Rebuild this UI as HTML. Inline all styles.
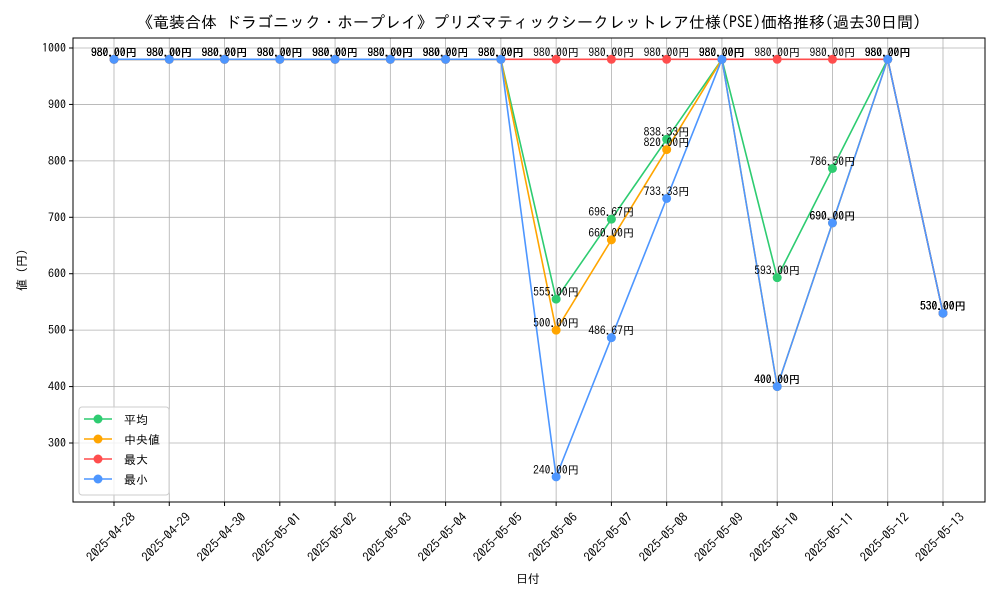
<!DOCTYPE html>
<html><head><meta charset="utf-8"><style>
body{margin:0;background:#fff;}
svg{display:block;font-family:"IPAGothic","Noto Sans CJK JP",sans-serif;}
</style></head><body>
<svg id="chart" width="1000" height="600" xmlns="http://www.w3.org/2000/svg">
<rect width="1000" height="600" fill="#fff"/>
<text x="529" y="28" font-size="16" text-anchor="middle">《竜装合体 ドラゴニック・ホープレイ》プリズマティックシークレットレア仕様(PSE)価格推移(過去30日間)</text>
<g id="grid"></g>
<g id="axes"></g>
<g id="series"></g>
<g id="labels"></g>
<text x="528" y="583" font-size="12" text-anchor="middle">日付</text>
<text x="26" y="270" font-size="12" text-anchor="middle" transform="rotate(-90 26 270)">値 (円)</text>
<g>
<rect x="79" y="407" width="90" height="88" rx="3" fill="#fff" fill-opacity="0.8" stroke="#ccc"/>
<g id="legend-items"></g>
</g>
</svg>
<script>
const dates=["2025-04-28","2025-04-29","2025-04-30","2025-05-01","2025-05-02","2025-05-03","2025-05-04","2025-05-05","2025-05-06","2025-05-07","2025-05-08","2025-05-09","2025-05-10","2025-05-11","2025-05-12","2025-05-13"];
const avgVals=[980,980,980,980,980,980,980,980,555,696.67,838.33,980,593,786.5,980,530];
const medianVals=[980,980,980,980,980,980,980,980,500,660,820,980,400,690,980,530];
const maxVals=[980,980,980,980,980,980,980,980,980,980,980,980,980,980,980,530];
const minVals=[980,980,980,980,980,980,980,980,240,486.67,733.33,980,400,690,980,530];
const yTicks=[300,400,500,600,700,800,900,1000];
const seriesNames=["平均","中央値","最大","最小"];
const NS="http://www.w3.org/2000/svg";
const L=73,R=985,T=38,B=502;
function xs(i){return 114+i*(943-114)/(dates.length-1);}
function ys(v){return 48+(1000-v)*0.5643;}
function mk(tag,attrs,parent){const e=document.createElementNS(NS,tag);for(const k in attrs)e.setAttribute(k,attrs[k]);parent.appendChild(e);return e;}
const grid=document.getElementById('grid'),axes=document.getElementById('axes');
dates.forEach((d,i)=>{
 const g=mk('line',{x1:xs(i),x2:xs(i),y1:T,y2:B,stroke:'#b0b0b0','stroke-width':0.8},grid);
 
 
 mk('line',{x1:xs(i),x2:xs(i),y1:B,y2:B+4,stroke:'#000'},axes);
 const ax=xs(i)+22, ay=B+16;
 const t=mk('text',{x:ax,y:ay,'font-size':12.5,'text-anchor':'end',transform:`rotate(-45 ${ax} ${ay})`},axes);
 t.textContent=d;
 
 
});
yTicks.forEach(v=>{
 const g=mk('line',{x1:L,x2:R,y1:ys(v),y2:ys(v),stroke:'#b0b0b0','stroke-width':0.8},grid);
 
 
 mk('line',{x1:L-4,x2:L,y1:ys(v),y2:ys(v),stroke:'#000'},axes);
 const t=mk('text',{x:L-7,y:ys(v)+4,'font-size':12,'text-anchor':'end'},axes);
 t.textContent=v;
 
 
});
const frame=mk('rect',{x:L,y:T,width:R-L,height:B-T,fill:'none',stroke:'#000','stroke-width':1},axes);


const all=[avgVals,medianVals,maxVals,minVals];
const colors=['#2ecc71','#ffa500','#ff4d4d','#4d96ff'];
const keys=['avg','median','max','min'];
const sg=document.getElementById('series'),lg=document.getElementById('labels');
all.forEach((vals,s)=>{
 const p=mk('polyline',{points:vals.map((v,i)=>xs(i)+','+ys(v)).join(' '),fill:'none',stroke:colors[s],'stroke-width':1.6},sg);
 
 
 vals.forEach((v,i)=>{
  const c=mk('circle',{cx:xs(i),cy:ys(v),r:4.5,fill:colors[s]},sg);
  
  
  const t=mk('text',{x:xs(i),y:ys(v)-3,'font-size':11.5,'text-anchor':'middle'},lg);
  t.textContent=v.toFixed(2)+'円';
  
  
 });
});
const li=document.getElementById('legend-items');
seriesNames.forEach((n,s)=>{
 const y=419+s*20;
 mk('line',{x1:84,x2:112,y1:y,y2:y,stroke:colors[s],'stroke-width':1.6},li);
 mk('circle',{cx:98,cy:y,r:4.5,fill:colors[s]},li);
 const t=mk('text',{x:124,y:y+5,'font-size':12},li);
 t.textContent=n;
 
 
});
</script>
</body></html>
